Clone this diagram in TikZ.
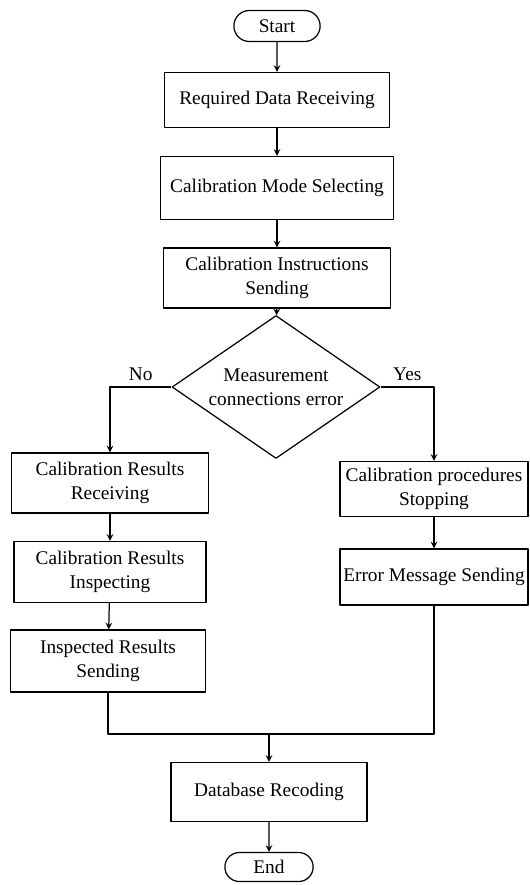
\documentclass[tikz,border=0pt]{standalone}
\usepackage{fontspec}
\setmainfont{LiberationSerif}[Extension=.ttf,UprightFont=*-Regular,BoldFont=*-Bold]
\usetikzlibrary{shapes.geometric,shapes.misc}
\begin{document}
\begin{tikzpicture}[x=0.02cm,y=-0.02cm,line join=round,>=stealth,
	font=\fontsize{11}{13.4}\selectfont,
	box/.style={draw,line width=0.7pt,align=center,inner sep=0.5pt},
	term/.style={draw,line width=0.7pt,rounded rectangle,minimum width=1.96cm,minimum height=0.62cm},
	flow/.style={->,line width=0.7pt}]
	\useasboundingbox (0,0) rectangle (530,885);
	% main column
	\node[term] (start) at (277,26) {Start};
	\node[box,minimum width=4.5cm,minimum height=1.1cm] (recv) at (277,100) {Required Data Receiving};
	\node[box,minimum width=4.66cm,minimum height=1.26cm] (mode) at (277,188) {Calibration Mode Selecting};
	\node[box,minimum width=4.54cm,minimum height=1.2cm] (instr) at (277,278) {Calibration Instructions\\Sending};
	\node[draw,line width=0.7pt,diamond,align=center,inner sep=-4pt,minimum width=4.16cm,minimum height=1.9cm] (dec) at (276,387) {Measurement\\connections error};
	% left branch
	\node[box,minimum width=3.94cm,minimum height=1.2cm] (crr) at (110,483) {Calibration Results\\Receiving};
	\node[box,minimum width=3.84cm,minimum height=1.22cm] (cri) at (110,572) {Calibration Results\\Inspecting};
	\node[box,minimum width=3.9cm,minimum height=1.24cm] (irs) at (108,661) {Inspected Results\\Sending};
	% right branch
	\node[box,minimum width=3.76cm,minimum height=1.1cm] (stop) at (434,489) {Calibration procedures\\Stopping};
	\node[box,minimum width=3.76cm,minimum height=1.12cm] (err) at (434,577) {Error Message Sending};
	% bottom
	\coordinate (m) at (269,734);
	\node[box,minimum width=3.92cm,minimum height=1.18cm] (db) at (269,792) {Database Recoding};
	\node[term,minimum width=2cm,minimum height=0.58cm] (end) at (269,867) {End};

	\draw[flow] (start) -- (recv);
	\draw[flow] (recv) -- (mode);
	\draw[flow] (mode) -- (instr);
	\draw[flow] (instr) -- (dec);
	\draw[flow] (dec.west) -| node[pos=0.25,above] (no) {No} (crr);
	\draw[flow] (dec.east) -| node[pos=0.25,above] (yes) {Yes} (stop);
	\draw[flow] (crr) -- (cri);
	\draw[flow] (cri) -- (irs);
	\draw[flow] (stop) -- (err);
	\draw[line width=0.7pt] (irs) |- (m);
	\draw[line width=0.7pt] (err) |- (m);
	\draw[flow] (m) -- (db);
	\draw[flow] (db) -- (end);
\end{tikzpicture}
\end{document}
